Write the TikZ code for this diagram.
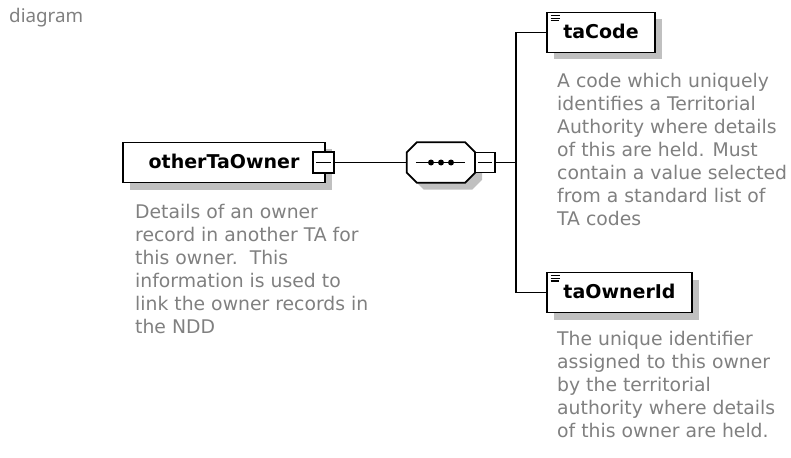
\documentclass[tikz,border=0pt]{standalone}
\usepackage{fontspec}
\setmainfont{DejaVu Sans}
\newfontfamily\labelfont{Noto Sans}
\usetikzlibrary{calc,shadows}
\definecolor{desc}{RGB}{128,128,128}
\definecolor{shade}{RGB}{192,192,192}
\definecolor{lbl}{RGB}{128,128,128}
\begin{document}
\begin{tikzpicture}[x=1pt,y=-1pt,
  conn/.style={line width=1.8pt, black},
  shadowed/.style={drop shadow={shadow xshift=7pt,shadow yshift=-7pt,fill=shade,opacity=1}},
  elembox/.style={draw, line width=1.8pt, fill=white, shadowed, minimum height=40pt,
    inner sep=0pt, font=\fontsize{19}{23}\selectfont\bfseries, text height=12pt, text depth=0pt},
  elemicon/.style={path picture={
    \foreach \d/\l in {3/9,5.7/9,8.4/8}
      \draw[line width=1.2pt] ([xshift=3.5pt,yshift=-\d pt]path picture bounding box.north west) -- ++(\l pt,0);}},
  togglebox/.style={draw, line width=1.5pt, fill=white, inner sep=0pt, minimum size=#1,
    path picture={\draw[line width=1.3pt] ([xshift=3pt]path picture bounding box.west) -- ([xshift=-3pt]path picture bounding box.east);}},
  desctext/.style={anchor=base west, inner sep=0pt, text=desc, font=\fontsize{18.8}{23}\selectfont},
]
\useasboundingbox (0,0) rectangle (791,457);

% title
\node[anchor=base west, inner sep=0pt, text=lbl, font=\labelfont\fontsize{18.8}{22}\selectfont] (title) at (9,22.5) {diagram};

% root element
\node[elembox, minimum width=202pt] (owner) at (224,162.5) {otherTaOwner};
\node[togglebox=21pt] (m1) at (323.5,162.5) {};
\node[desctext] (ownerdesc) at (135,218) {\begin{tabular}[t]{@{}l@{}}Details of an owner\\record in another TA for\\this owner.~~This\\information is used to\\link the owner records in\\the NDD\end{tabular}};

% sequence compositor
\node[minimum width=68pt, minimum height=40pt, inner sep=0pt] (seq) at (441,162.5) {};
\draw[conn, fill=white, shadowed]
  ($(seq.north west)+(10,0)$) -- ($(seq.north east)+(-10,0)$) -- ($(seq.north east)+(0,10)$) --
  ($(seq.south east)+(0,-10)$) -- ($(seq.south east)+(-10,0)$) -- ($(seq.south west)+(10,0)$) --
  ($(seq.south west)+(0,-10)$) -- ($(seq.north west)+(0,10)$) -- cycle;
\draw[conn] ($(seq.west)+(9,0)$) -- ($(seq.east)+(-10,0)$);
\fill ($(seq.center)+(-10,0)$) circle (3);
\fill (seq.center) circle (3);
\fill ($(seq.center)+(10,0)$) circle (3);
\node[togglebox=20pt] (m2) at (485,162.5) {};
\coordinate (j) at (516,162.5);

% children
\node[elembox, elemicon, minimum width=108pt] (taCode) at (601,32.5) {taCode};
\node[desctext] (taCodedesc) at (557,88) {\begin{tabular}[t]{@{}l@{}}A code which uniquely\\identifies a Territorial\\Authority where details\\of this are held. Must\\contain a value selected\\from a standard list of\\TA codes\end{tabular}};

\node[elembox, elemicon, minimum width=145pt] (taOwnerId) at (619.5,292.5) {taOwnerId};
\node[desctext] (taOwnerIddesc) at (557,345) {\begin{tabular}[t]{@{}l@{}}The unique identifier\\assigned to this owner\\by the territorial\\authority where details\\of this owner are held.\end{tabular}};

% connectors
\draw[conn] (m1.east) -- (seq.west);
\draw[conn] (m2.east) -- (j);
\draw[conn] (taCode.west) -| (j) |- (taOwnerId.west);
\end{tikzpicture}
\end{document}
